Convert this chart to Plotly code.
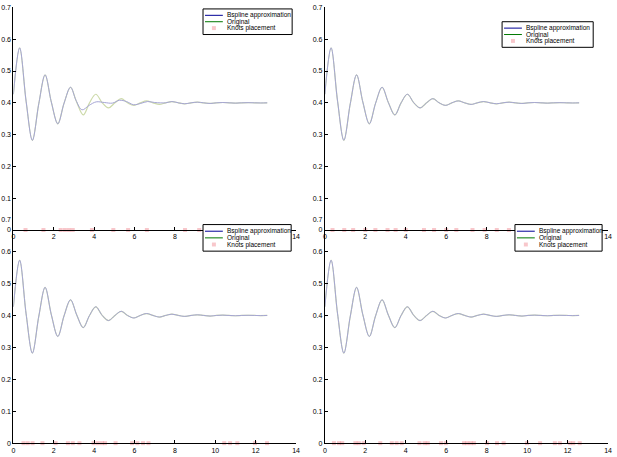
import plotly.graph_objects as go

# ---- data ----
t_orig = [0.0, 0.31, 0.63, 0.94, 1.26, 1.57, 1.88, 2.20, 2.51, 2.83, 3.14, 3.46, 3.77,
          4.08, 4.40, 4.71, 5.03, 5.34, 5.65, 5.97, 6.28, 6.60, 6.91, 7.23, 7.54, 7.85,
          8.17, 8.48, 8.80, 9.11, 9.42, 9.74, 10.05, 10.37, 10.68, 11.00, 11.31, 11.62,
          11.94, 12.25, 12.57]
y_orig = [0.427, 0.573, 0.405, 0.282, 0.398, 0.488, 0.402, 0.334, 0.399, 0.449, 0.401, 0.362, 0.400,
          0.427, 0.400, 0.384, 0.400, 0.413, 0.400, 0.392, 0.400, 0.406, 0.400, 0.395, 0.400, 0.404,
          0.400, 0.397, 0.400, 0.402, 0.400, 0.398, 0.400, 0.401, 0.400, 0.399, 0.400, 0.4005,
          0.400, 0.3995, 0.400]

# B-spline approximation in the first panel (deviates after x~3)
t_bs1 = [0.0, 0.31, 0.63, 0.94, 1.26, 1.57, 1.88, 2.20, 2.51, 2.83, 3.10, 3.40, 3.75,
         4.10, 4.50, 4.90, 5.25, 5.60, 5.95, 6.30, 6.65, 7.00, 7.54, 7.85, 8.17, 8.48,
         8.80, 9.11, 9.42, 9.74, 10.05, 10.37, 10.68, 11.00, 11.31, 11.62, 11.94, 12.25, 12.57]
y_bs1 = [0.427, 0.573, 0.405, 0.282, 0.398, 0.488, 0.402, 0.334, 0.399, 0.449, 0.408, 0.378, 0.392,
         0.403, 0.401, 0.399, 0.408, 0.404, 0.394, 0.398, 0.404, 0.401, 0.400, 0.404,
         0.400, 0.397, 0.400, 0.402, 0.400, 0.398, 0.400, 0.401, 0.400, 0.399, 0.400, 0.4005,
         0.400, 0.3995, 0.400]

knots_tl = [0.60, 1.49, 2.34, 2.55, 2.75, 2.94, 3.89, 4.95, 5.68, 6.61, 8.5, 9.2]
knots_tr = [0.38, 0.96, 1.40, 2.00, 2.50, 3.10, 3.50, 4.00, 4.90, 5.40, 6.00, 6.50,
            7.30, 7.90, 8.50, 9.10, 9.60]
knots_bl = [0.50, 0.71, 0.95, 1.44, 2.09, 2.70, 2.94, 3.27, 3.97, 4.18, 4.38, 4.54,
            5.06, 5.88, 6.14, 6.42, 6.69, 10.44, 10.73, 11.09, 11.96, 12.56]
knots_br = [0.45, 0.70, 0.86, 1.51, 1.68, 1.92, 2.74, 3.31, 3.55, 3.80, 4.68, 4.93,
            5.09, 5.74, 5.98, 6.88, 7.04, 7.21, 7.37, 8.02, 8.51, 8.84, 9.99, 10.64,
            11.37, 11.62, 12.11, 12.28, 12.60]

x_ticks = [0, 2, 4, 6, 8, 10, 12, 14]
x_tick_text_full = ["0", "2", "4", "6", "8", "10", "12", "14"]
# on the upper panels the labels 10 and 12 are hidden behind the lower legends
x_tick_text_top = ["0", "2", "4", "6", "8", "", "", "14"]
y_ticks = [0, 0.1, 0.2, 0.3, 0.4, 0.5, 0.6, 0.7]
y_tick_text = ["0", "0.1", "0.2", "0.3", "0.4", "0.5", "0.6", "0.7"]

names = ["Bspline approximation", "Original", "Knots placement"]

# ---- styling ----
W, H = 617, 457
FONT = "Liberation Sans, Arial, sans-serif"
C_BS_PLOT = "rgb(165,165,212)"
C_OR_PLOT = "rgb(205,218,170)"
C_BS_LEG = "rgb(0,0,150)"
C_OR_LEG = "rgb(0,120,0)"
C_KNOT = "rgba(240,130,140,0.45)"

# panel: axes suffix, bspline data, knots, x domain px, y domain px (top, bottom),
#        legend box px (x0, y0, x1, y1), tick labels on x
panels = [
    ("", t_bs1, y_bs1, knots_tl, (11.5, 297), (3.5, 229.5), (203, 5, 293, 31), x_tick_text_top),
    ("2", t_orig, y_orig, knots_tr, (326, 612), (3.5, 229.5), (505, 18, 597, 44), x_tick_text_top),
    ("3", t_orig, y_orig, knots_bl, (11.5, 297), (219, 446), (203, 224, 292, 251), x_tick_text_full),
    ("4", t_orig, y_orig, knots_br, (326, 612), (219, 446), (518, 224, 606, 251), x_tick_text_full),
]


def px(x):
    return x / W


def py(y):
    return 1 - y / H


fig = go.Figure()
layout = dict(width=W, height=H, margin=dict(l=0, r=0, t=0, b=0),
              paper_bgcolor="white", plot_bgcolor="rgba(0,0,0,0)",
              font=dict(family=FONT, size=7, color="black"), showlegend=False)
shapes, annotations = [], []

for sfx, bx, by, kn, xd, yd, box, xtt in panels:
    xa, ya = "x" + sfx, "y" + sfx
    fig.add_trace(go.Scatter(x=t_orig, y=y_orig, mode="lines", name=names[1],
                             line=dict(color=C_OR_PLOT, width=1.2, shape="spline"),
                             xaxis=xa, yaxis=ya))
    fig.add_trace(go.Scatter(x=bx, y=by, mode="lines", name=names[0],
                             line=dict(color=C_BS_PLOT, width=1, shape="spline"),
                             xaxis=xa, yaxis=ya))
    fig.add_trace(go.Scatter(x=kn, y=[0] * len(kn), mode="markers", name=names[2],
                             marker=dict(symbol="square", size=4, color=C_KNOT, line=dict(width=0)),
                             cliponaxis=False, xaxis=xa, yaxis=ya))
    common = dict(showline=True, linecolor="black", linewidth=1, ticks="inside", ticklen=3,
                  tickwidth=1, tickcolor="black", showgrid=False, zeroline=False,
                  tickfont=dict(family=FONT, size=7, color="black"))
    layout["xaxis" + sfx] = dict(domain=[px(xd[0]), px(xd[1])], range=[0, 14],
                                 tickvals=x_ticks, ticktext=xtt, anchor=ya, **common)
    layout["yaxis" + sfx] = dict(domain=[py(yd[1]), py(yd[0])], range=[0, 0.7],
                                 tickvals=y_ticks, ticktext=y_tick_text, anchor=xa, **common)

    # legend box drawn like the MATLAB legend
    x0, y0, x1, y1 = box
    shapes.append(dict(type="rect", xref="paper", yref="paper", layer="above",
                       x0=px(x0), x1=px(x1), y0=py(y1), y1=py(y0),
                       fillcolor="white", line=dict(color="black", width=1)))
    step = (y1 - y0) / 4.0
    rows = [y0 + step * (k + 1) for k in range(3)]
    lx0, lx1, tx = x0 + 2, x0 + 20, x0 + 22
    shapes.append(dict(type="line", xref="paper", yref="paper", layer="above",
                       x0=px(lx0), x1=px(lx1), y0=py(rows[0]), y1=py(rows[0]),
                       line=dict(color=C_BS_LEG, width=1)))
    shapes.append(dict(type="line", xref="paper", yref="paper", layer="above",
                       x0=px(lx0), x1=px(lx1), y0=py(rows[1]), y1=py(rows[1]),
                       line=dict(color=C_OR_LEG, width=1)))
    cx = (lx0 + lx1) / 2
    shapes.append(dict(type="rect", xref="paper", yref="paper", layer="above",
                       x0=px(cx - 2), x1=px(cx + 2), y0=py(rows[2] + 2), y1=py(rows[2] - 2),
                       fillcolor=C_KNOT, line=dict(width=0)))
    for name, ry in zip(names, rows):
        annotations.append(dict(xref="paper", yref="paper", x=px(tx), y=py(ry),
                                xanchor="left", yanchor="middle", showarrow=False,
                                text=name, font=dict(family=FONT, size=6.5, color="black")))

layout["shapes"] = shapes
layout["annotations"] = annotations
fig.update_layout(**layout)
fig.write_html("out.html", config={"displayModeBar": False},
               post_script="document.body.style.margin='0px';")
